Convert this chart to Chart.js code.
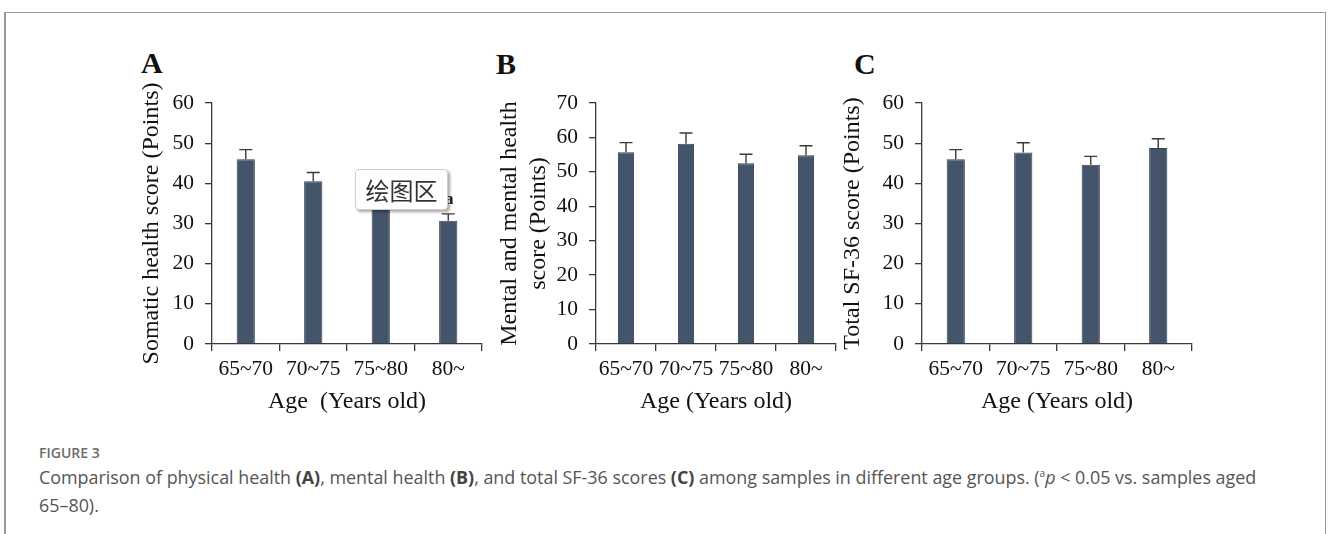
<!DOCTYPE html>
<html lang="en">
<head>
  <meta charset="UTF-8">
  <title>Figure 3 - SF-36 scores by age group</title>
  <script src="https://cdn.jsdelivr.net/npm/chart.js"></script>
  <style>
    body { margin: 0; width: 1328px; height: 534px; overflow: hidden; background: #fff; position: relative; }
    .frame { position: absolute; left: 4px; top: 12px; width: 1319px; height: 600px; border: 1px solid #9a9a9a; border-bottom: none; border-left-width: 2px; }
    canvas { position: absolute; }
    .letter { position: absolute; font-family: "Liberation Serif", serif; font-weight: bold; font-size: 30px; color: #111; line-height: 1; }
    .popup { position: absolute; left: 355px; top: 169px; width: 91px; height: 39px; background: #fff; border: 1px solid #cfcfcf; border-radius: 4px;
             box-shadow: 2px 2px 3px rgba(0,0,0,0.35); font-family: "Noto Sans CJK SC", sans-serif; font-size: 24px; color: #333;
             line-height: 39px; text-align: center; }
    .fig { position: absolute; left: 39px; top: 443px; font-family: "Open Sans", sans-serif; font-size: 14px; font-weight: 600; color: #6b6b6b; }
    .caption { position: absolute; left: 39px; top: 459px; font-family: "Open Sans", sans-serif; font-size: 17.9px; line-height: 28px; color: #555; white-space: nowrap; }
    .caption b { font-weight: 700; color: #444; }
  </style>
</head>
<body>
  <div class="frame"></div>

  <div class="letter" style="left:141px; top:48px;">A</div>
  <div class="letter" style="left:496px; top:49px;">B</div>
  <div class="letter" style="left:854px; top:49px;">C</div>

  <canvas id="chartA" width="365" height="360" style="left:130px; top:60px;"></canvas>
  <canvas id="chartB" width="355" height="360" style="left:490px; top:60px;"></canvas>
  <canvas id="chartC" width="365" height="360" style="left:835px; top:60px;"></canvas>

  <div class="popup">绘图区</div>

  <div class="fig">FIGURE 3</div>
  <div class="caption">Comparison of physical health <b>(A)</b>, mental health <b>(B)</b>, and total SF-36 scores <b>(C)</b> among samples in different age groups. (<sup style="font-size:10px">a</sup><i>p</i> &lt; 0.05 vs. samples aged<br>65–80).</div>

  <script>
    // data
    const ageGroups = ['65~70', '70~75', '75~80', '80~'];

    const somaticMeans = [46.0, 40.5, 35.5, 30.7];
    const somaticSD = [2.4, 2.2, 2.3, 1.7];
    const somaticMarks = ['', '', 'a', 'a'];

    const mentalMeans = [55.7, 58.2, 52.5, 54.8];
    const mentalSD = [2.8, 3.1, 2.6, 2.8];

    const totalMeans = [46.0, 47.7, 44.6, 48.8];
    const totalSD = [2.4, 2.4, 2.1, 2.3];

    const yTicksA = [0, 10, 20, 30, 40, 50, 60];
    const yTicksB = [0, 10, 20, 30, 40, 50, 60, 70];
    const yTicksC = [0, 10, 20, 30, 40, 50, 60];

    const barColor = '#44546a';
    const axisColor = '#3a3a3a';
    const serif = "'Liberation Serif', 'Times New Roman', serif";

    // upper error bars (+ optional significance letter), positioned via the y scale
    const errorBars = {
      id: 'errorBars',
      afterDatasetsDraw(chart, args, opts) {
        const ctx = chart.ctx;
        const y = chart.scales.y;
        const values = chart.data.datasets[0].data;
        const meta = chart.getDatasetMeta(0);
        ctx.save();
        ctx.strokeStyle = axisColor;
        ctx.lineWidth = 1.4;
        ctx.fillStyle = '#222';
        ctx.font = 'bold 17px ' + serif;
        ctx.textAlign = 'center';
        ctx.textBaseline = 'bottom';
        meta.data.forEach((bar, i) => {
          const top = y.getPixelForValue(values[i] + opts.sd[i]);
          ctx.beginPath();
          ctx.moveTo(bar.x, bar.y);
          ctx.lineTo(bar.x, top);
          ctx.moveTo(bar.x - 6.5, top);
          ctx.lineTo(bar.x + 6.5, top);
          ctx.stroke();
          if (opts.marks && opts.marks[i]) {
            ctx.fillText(opts.marks[i], bar.x + 1, top - 6);
          }
        });
        ctx.restore();
      }
    };

    function makePanel(id, values, sd, marks, ticks, yTitle, yAxisWidth, titlePad, rightPad) {
      const maxY = ticks[ticks.length - 1];
      return new Chart(document.getElementById(id), {
        type: 'bar',
        data: {
          labels: ageGroups,
          datasets: [{
            data: values,
            backgroundColor: barColor,
            borderColor: '#34404f',
            borderWidth: 1,
            barPercentage: 0.27,
            categoryPercentage: 1
          }]
        },
        options: {
          responsive: false,
          animation: false,
          layout: { padding: { top: 43, right: rightPad, bottom: 0, left: 0 } },
          plugins: {
            legend: { display: false },
            tooltip: { enabled: false },
            errorBars: { sd: sd, marks: marks }
          },
          scales: {
            x: {
              grid: { display: true, offset: true, drawOnChartArea: false, drawTicks: true, tickLength: 7, color: axisColor, lineWidth: 1.3 },
              border: { display: true, color: axisColor, width: 1.3 },
              ticks: { color: '#111', padding: 5, maxRotation: 0, autoSkip: false, font: { family: serif, size: 21.5 } },
              title: { display: true, text: id === 'chartA' ? 'Age  (Years old)' : 'Age (Years old)', color: '#111',
                       padding: { top: 0, bottom: 3.6 }, font: { family: serif, size: 24 } },
              afterFit(scale) { scale.height = 76; }
            },
            y: {
              min: 0,
              max: maxY,
              afterBuildTicks(scale) { scale.ticks = ticks.map(v => ({ value: v })); },
              grid: { display: true, drawOnChartArea: false, drawTicks: true, tickLength: 7, color: axisColor, lineWidth: 1.3 },
              border: { display: true, color: axisColor, width: 1.3 },
              ticks: { color: '#111', padding: 11, font: { family: serif, size: 21.5 } },
              title: { display: true, text: yTitle, color: '#111', padding: { top: titlePad, bottom: 0 }, font: { family: serif, size: 24 } },
              afterFit(scale) { scale.width = yAxisWidth; }
            }
          }
        },
        plugins: [errorBars]
      });
    }

    makePanel('chartA', somaticMeans, somaticSD, somaticMarks, yTicksA, 'Somatic health score (Points)', 82, 7.6, 13);
    makePanel('chartB', mentalMeans, mentalSD, null, yTicksB, ['Mental and mental health', 'score (Points)'], 106, 5.6, 9);
    makePanel('chartC', totalMeans, totalSD, null, yTicksC, 'Total SF-36 score (Points)', 87, 3.6, 8);
  </script>
</body>
</html>
